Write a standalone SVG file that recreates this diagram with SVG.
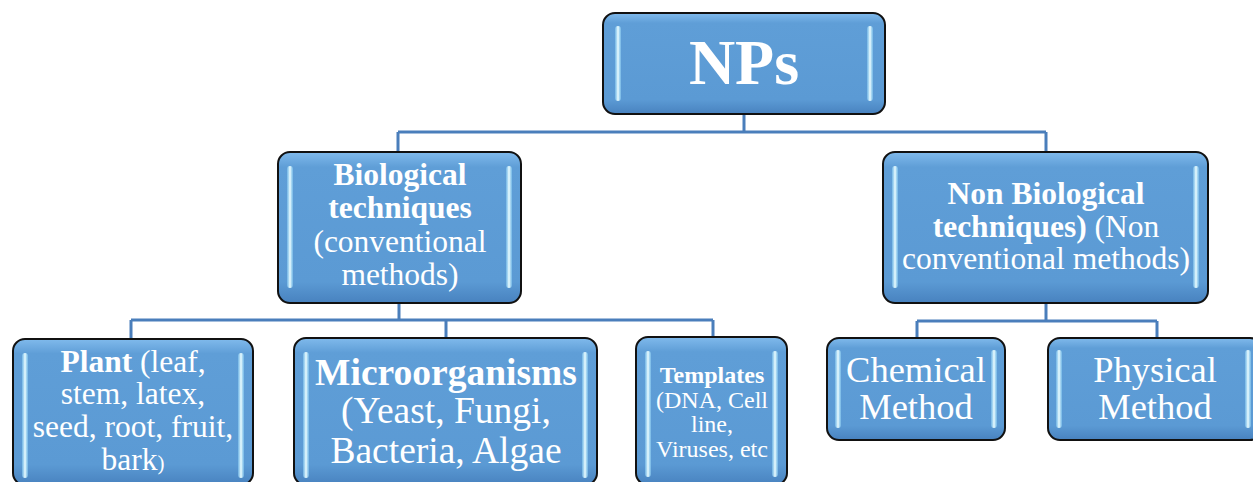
<svg xmlns="http://www.w3.org/2000/svg" width="1253" height="482" viewBox="0 0 1253 482">
<defs>
<linearGradient id="fill" x1="0" y1="0" x2="0" y2="1">
<stop offset="0" stop-color="#80BAEC"/>
<stop offset="0.1" stop-color="#5F9ED7"/>
<stop offset="0.86" stop-color="#5B9AD4"/>
<stop offset="1" stop-color="#4882BF"/>
</linearGradient>
<linearGradient id="bar" x1="0" y1="0" x2="1" y2="0">
<stop offset="0" stop-color="#8ED2F6" stop-opacity="0.5"/>
<stop offset="0.5" stop-color="#EFFFFF"/>
<stop offset="1" stop-color="#8ED2F6" stop-opacity="0.5"/>
</linearGradient>
</defs>
<style>
.box{fill:url(#fill);stroke:#111;stroke-width:2}
.bar{fill:url(#bar)}
.t{fill:#fff;font-family:"Liberation Serif","Times New Roman",serif;text-anchor:middle}
.b{font-weight:bold}
.conn{fill:none;stroke:#4A7EBB;stroke-width:3}
</style>
<g id="connectors" class="conn">
<path d="M744 114 V132 M398 132 H1046 M398 132 V152 M1046 132 V152"/>
<path d="M399 303 V320 M131 320 H713 M131 320 V339 M446 320 V338 M713 320 V337"/>
<path d="M1046 303 V321 M917 321 H1157 M917 321 V338 M1157 321 V338"/>
</g>
<g id="nps">
<rect class="box" x="603" y="13" width="282" height="101" rx="12"/>
<rect class="bar" x="615" y="26" width="6" height="75" rx="3"/>
<rect class="bar" x="867" y="26" width="6" height="75" rx="3"/>
<text class="t b" x="744" y="84" font-size="64">NPs</text>
</g>
<g id="biological">
<rect class="box" x="278" y="152" width="243" height="151" rx="12"/>
<rect class="bar" x="287" y="166" width="6" height="122" rx="3"/>
<rect class="bar" x="506" y="166" width="6" height="122" rx="3"/>
<text class="t" font-size="31.5"><tspan class="b" x="400" y="185">Biological</tspan><tspan class="b" x="400" y="218">techniques</tspan><tspan x="400" y="252">(conventional</tspan><tspan x="400" y="285">methods)</tspan></text>
</g>
<g id="nonbiological">
<rect class="box" x="883" y="152" width="325" height="151" rx="12"/>
<rect class="bar" x="892" y="166" width="6" height="122" rx="3"/>
<rect class="bar" x="1193" y="166" width="6" height="122" rx="3"/>
<text class="t" font-size="31.5"><tspan class="b" x="1046" y="204">Non Biological</tspan><tspan x="1046" y="237"><tspan class="b">techniques)</tspan> (Non</tspan><tspan x="1046" y="269">conventional methods)</tspan></text>
</g>
<g id="plant">
<rect class="box" x="13" y="339" width="240" height="146" rx="12"/>
<rect class="bar" x="22" y="353" width="6" height="125" rx="3"/>
<rect class="bar" x="238" y="353" width="6" height="125" rx="3"/>
<text class="t" font-size="31.5"><tspan x="133" y="372"><tspan class="b">Plant</tspan> (leaf,</tspan><tspan x="133" y="404">stem, latex,</tspan><tspan x="133" y="437">seed, root, fruit,</tspan><tspan x="133" y="470">bark<tspan font-size="21">)</tspan></tspan></text>
</g>
<g id="microorganisms">
<rect class="box" x="294" y="338" width="303" height="147" rx="12"/>
<rect class="bar" x="303" y="352" width="6" height="126" rx="3"/>
<rect class="bar" x="582" y="352" width="6" height="126" rx="3"/>
<text class="t" font-size="37.5"><tspan class="b" x="446" y="385">Microorganisms</tspan><tspan x="446" y="423">(Yeast, Fungi,</tspan><tspan x="446" y="463">Bacteria, Algae</tspan></text>
</g>
<g id="templates">
<rect class="box" x="636" y="337" width="151" height="148" rx="12"/>
<rect class="bar" x="645" y="351" width="6" height="126" rx="3"/>
<rect class="bar" x="772" y="351" width="6" height="126" rx="3"/>
<text class="t" font-size="24"><tspan class="b" x="712" y="383">Templates</tspan><tspan x="712" y="408">(DNA, Cell</tspan><tspan x="712" y="432">line,</tspan><tspan x="712" y="457">Viruses, etc</tspan></text>
</g>
<g id="chemical">
<rect class="box" x="827" y="338" width="178" height="102" rx="12"/>
<rect class="bar" x="835" y="350" width="6" height="78" rx="3"/>
<rect class="bar" x="991" y="350" width="6" height="78" rx="3"/>
<text class="t" font-size="36.5"><tspan x="916" y="382">Chemical</tspan><tspan x="916" y="419">Method</tspan></text>
</g>
<g id="physical">
<rect class="box" x="1048" y="338" width="214" height="102" rx="12"/>
<rect class="bar" x="1056" y="350" width="6" height="78" rx="3"/>
<rect class="bar" x="1245" y="350" width="6" height="78" rx="3"/>
<text class="t" font-size="36.5"><tspan x="1155" y="382">Physical</tspan><tspan x="1155" y="419">Method</tspan></text>
</g>
</svg>
